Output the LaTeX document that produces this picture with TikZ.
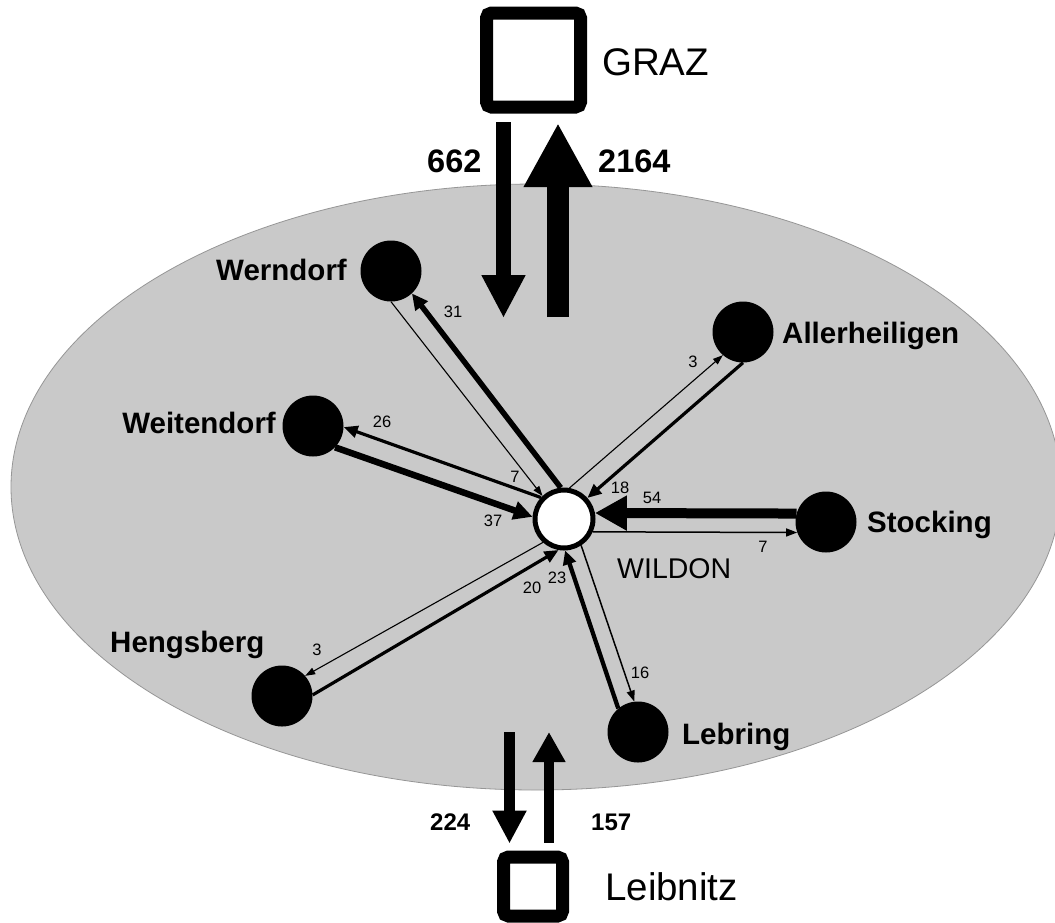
\documentclass[tikz,border=0pt]{standalone}
\usepackage{fontspec}
\setmainfont{Liberation Sans}
\usetikzlibrary{arrows.meta,calc}
\definecolor{fieldgray}{RGB}{201,201,201}
\definecolor{rimgray}{RGB}{150,150,150}
\begin{document}
\begin{tikzpicture}[x=1pt,y=-1pt,
  town/.style={circle,fill=black,minimum size=61pt,inner sep=0pt},
  hub/.style={circle,draw=black,fill=white,line width=5pt,minimum size=58pt,inner sep=0pt},
  citybox/.style={draw=black,fill=white,line width=13pt,rounded corners=5pt,inner sep=0pt},
  place/.style={font=\bfseries\fontsize{29.5}{30}\selectfont,inner sep=0pt},
  cityname/.style={font=\fontsize{38.5}{40}\selectfont,inner sep=0pt},
  hubname/.style={font=\fontsize{28.5}{30}\selectfont,inner sep=0pt},
  bignum/.style={font=\bfseries\fontsize{32.5}{34}\selectfont,inner sep=0pt},
  midnum/.style={font=\bfseries\fontsize{24}{26}\selectfont,inner sep=0pt},
  flownum/.style={font=\fontsize{16.5}{17}\selectfont,inner sep=0pt},
  fa/.style={line width=1.1pt,-{Triangle[length=10pt,width=7pt]}},
  fb/.style={line width=1.5pt,-{Triangle[length=11pt,width=8pt]}},
  fc/.style={line width=3.2pt,-{Triangle[length=14pt,width=12pt]}},
  fd/.style={line width=4.3pt,-{Triangle[length=14pt,width=13pt]}},
  fe/.style={line width=5.5pt,-{Triangle[length=16pt,width=15pt]}},
  ff/.style={line width=6.5pt,-{Triangle[length=19pt,width=18pt]}},
  fg/.style={line width=10pt,-{Triangle[length=32pt,width=33pt]}},
]
\useasboundingbox (0,0) rectangle (1055,922);
\fill[white] (0,0) rectangle (1055,922);

% region
\filldraw[fill=fieldgray,draw=rimgray,line width=0.8pt] (536,487) ellipse [x radius=525, y radius=303];

% cities outside the region
\node[citybox,minimum size=94pt] (graz) at (533.5,60) {};
\node[citybox,minimum size=59pt] (leib) at (533,886.5) {};
\node[cityname,anchor=base west] (grazlbl) at (602,75) {GRAZ};
\node[cityname,anchor=base west] (leiblbl) at (605,900) {Leibnitz};

% hub and surrounding towns
\node[hub] (wil) at (564,519) {};
\node[town] (wern) at (391,271) {};
\node[town] (weit) at (313,426) {};
\node[town] (alle) at (743,332) {};
\node[town] (stoc) at (826,522) {};
\node[town] (heng) at (282,696) {};
\node[town] (lebr) at (638,732) {};

\node[hubname,anchor=base west] (willbl) at (617,578) {WILDON};
\node[place,anchor=base east] (wernlbl) at (347,280) {Werndorf};
\node[place,anchor=base east] (weitlbl) at (276,433) {Weitendorf};
\node[place,anchor=base west] (allelbl) at (782,343) {Allerheiligen};
\node[place,anchor=base west] (stoclbl) at (867,532) {Stocking};
\node[place,anchor=base west] (henglbl) at (110,652) {Hengsberg};
\node[place,anchor=base west] (lebrlbl) at (682,744) {Lebring};

% flows to and from Graz
\coordinate (grazin) at (503.5,318);
\coordinate (grazout) at (558,317);
\draw[line width=15pt,-{Triangle[length=43pt,width=41pt]}] ([xshift=-30pt,yshift=-8.5pt]graz.south) -- (grazin);
\draw[line width=22pt,-{Triangle[length=64pt,width=64pt]}] (grazout) -- ([xshift=24.5pt,yshift=-9.5pt]graz.south);
\node[bignum,anchor=base west] (n662) at (427,172) {662};
\node[bignum,anchor=base west] (n2164) at (598,172) {2164};

% flows to and from Leibnitz
\coordinate (leibout) at (509.5,732);
\coordinate (leibin) at (549,732);
\draw[line width=11pt,-{Triangle[length=33pt,width=32pt]}] (leibout) -- ([xshift=-23.5pt,yshift=7pt]leib.north);
\draw[line width=10pt,-{Triangle[length=30pt,width=31pt]}] ([xshift=16pt,yshift=8pt]leib.north) -- (leibin);
\node[midnum,anchor=base west] (n224) at (430,830) {224};
\node[midnum,anchor=base west] (n157) at (591,830) {157};

% local flows
\draw[fe] (wil.96) -- (wern.-47);
\draw[fa] (wern.-90) -- (wil.133);
\draw[fc] (wil.137) -- (weit.-2);
\draw[ff] (weit.-44) -- (wil.176);
\draw[fa] (wil.80) -- (alle.229);
\draw[fc] (alle.-90) -- (wil.42);
\draw[fg] (stoc.164) -- (wil.11.6);
\draw[fb] (wil.-24) -- (stoc.200);
\draw[fa] (wil.228) -- (heng.41);
\draw[fc] (heng.2) -- (wil.260);
\draw[fd] (lebr.130) -- (wil.-88);
\draw[fb] (wil.-57) -- (lebr.97);

\node[flownum] (l31) at (453,312) {31};
\node[flownum] (l7a) at (515,477) {7};
\node[flownum] (l26) at (382,422) {26};
\node[flownum] (l37) at (493,521) {37};
\node[flownum] (l3a) at (693,362) {3};
\node[flownum] (l18) at (620,488) {18};
\node[flownum] (l54) at (652,498) {54};
\node[flownum] (l7b) at (763,547) {7};
\node[flownum] (l3b) at (317,650) {3};
\node[flownum] (l20) at (532,588) {20};
\node[flownum] (l23) at (557,578) {23};
\node[flownum] (l16) at (640,673) {16};
\end{tikzpicture}
\end{document}
